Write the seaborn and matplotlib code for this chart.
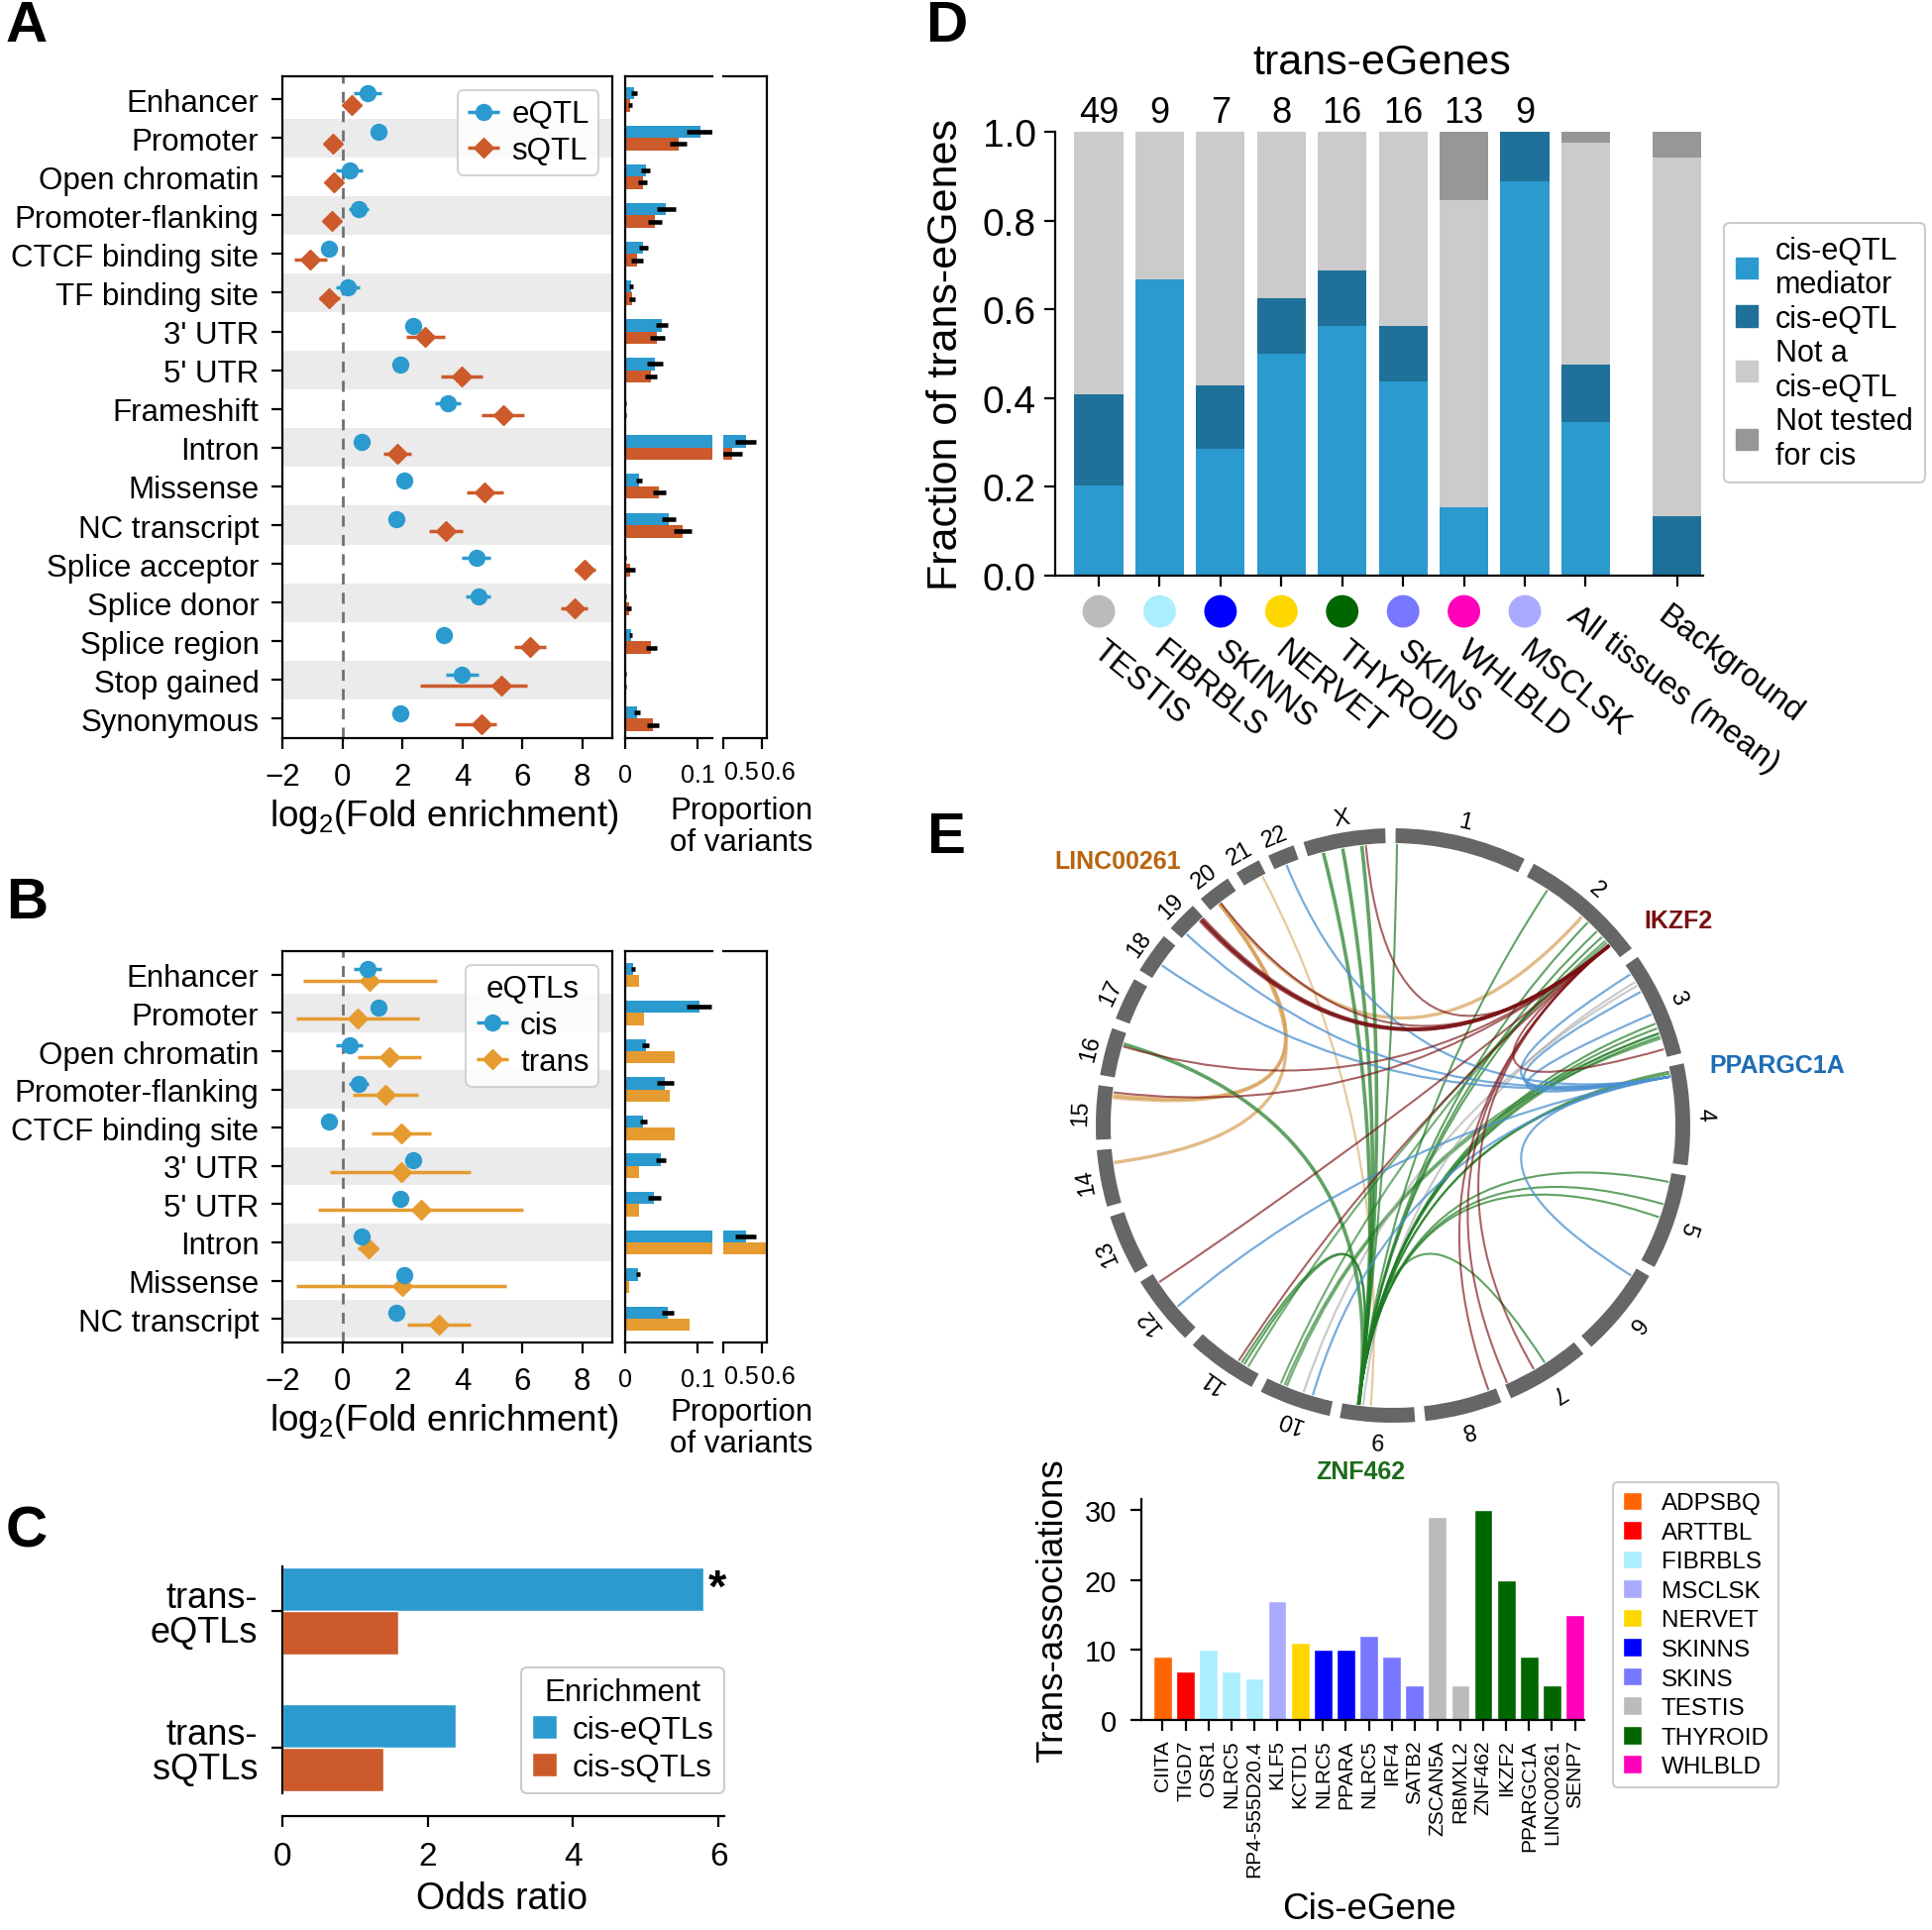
import numpy as np
import pandas as pd
import matplotlib
matplotlib.use('Agg')
import matplotlib.pyplot as plt
import seaborn as sns
from matplotlib.path import Path
from matplotlib.patches import PathPatch, Patch, Wedge

# ------------------------------------------------------------------ data
annot_A = ['Enhancer', 'Promoter', 'Open chromatin', 'Promoter-flanking', 'CTCF binding site',
           'TF binding site', "3' UTR", "5' UTR", 'Frameshift', 'Intron', 'Missense',
           'NC transcript', 'Splice acceptor', 'Splice donor', 'Splice region', 'Stop gained',
           'Synonymous']
eqtl_fe = [0.84, 1.21, 0.23, 0.55, -0.44, 0.17, 2.37, 1.93, 3.52, 0.65, 2.05, 1.81, 4.46, 4.53, 3.37, 3.99, 1.93]
eqtl_lo = [0.38, 1.05, -0.20, 0.22, -0.60, -0.23, 2.22, 1.80, 3.09, 0.55, 1.93, 1.70, 3.97, 4.11, 3.17, 3.44, 1.83]
eqtl_hi = [1.30, 1.37, 0.66, 0.88, -0.28, 0.57, 2.52, 2.06, 3.95, 0.75, 2.17, 1.92, 4.95, 4.95, 3.57, 4.54, 2.03]
sqtl_fe = [0.30, -0.32, -0.27, -0.35, -1.06, -0.44, 2.77, 3.98, 5.35, 1.83, 4.75, 3.44, 8.09, 7.73, 6.26, 5.29, 4.63]
sqtl_lo = [0.15, -0.45, -0.40, -0.48, -1.59, -0.79, 2.12, 3.30, 4.65, 1.36, 4.13, 2.88, 7.73, 7.27, 5.74, 2.58, 3.76]
sqtl_hi = [0.45, -0.19, -0.14, -0.22, -0.53, -0.09, 3.42, 4.66, 6.05, 2.30, 5.37, 4.00, 8.45, 8.19, 6.78, 6.16, 5.15]
eqtl_prop = [0.012, 0.103, 0.028, 0.056, 0.025, 0.008, 0.050, 0.041, 0.0008, 0.559, 0.019, 0.060, 0.0005, 0.001, 0.008, 0.0005, 0.016]
eqtl_prop_err = [0.004, 0.019, 0.006, 0.013, 0.006, 0.003, 0.008, 0.011, 0.0005, 0.027, 0.004, 0.009, 0.0003, 0.0005, 0.002, 0.0003, 0.004]
sqtl_prop = [0.007, 0.073, 0.024, 0.041, 0.016, 0.009, 0.044, 0.035, 0.001, 0.523, 0.047, 0.079, 0.007, 0.005, 0.036, 0.0005, 0.038]
sqtl_prop_err = [0.003, 0.011, 0.006, 0.010, 0.008, 0.004, 0.010, 0.008, 0.001, 0.025, 0.009, 0.012, 0.007, 0.003, 0.008, 0.0003, 0.008]

annot_B = ['Enhancer', 'Promoter', 'Open chromatin', 'Promoter-flanking', 'CTCF binding site',
           "3' UTR", "5' UTR", 'Intron', 'Missense', 'NC transcript']
cis_fe = [0.84, 1.21, 0.23, 0.55, -0.44, 2.37, 1.93, 0.65, 2.05, 1.81]
cis_lo = [0.38, 1.05, -0.20, 0.22, -0.60, 2.22, 1.80, 0.55, 1.93, 1.70]
cis_hi = [1.30, 1.37, 0.66, 0.88, -0.28, 2.52, 2.06, 0.75, 2.17, 1.92]
trans_fe = [0.92, 0.52, 1.56, 1.44, 1.95, 1.95, 2.62, 0.86, 2.00, 3.22]
trans_lo = [-1.31, -1.53, 0.52, 0.35, 0.96, -0.40, -0.81, 0.52, -1.53, 2.16]
trans_hi = [3.14, 2.57, 2.63, 2.53, 2.94, 4.28, 6.04, 1.19, 5.47, 4.28]
cis_prop = [0.011, 0.102, 0.028, 0.055, 0.025, 0.049, 0.040, 0.559, 0.018, 0.059]
cis_prop_err = [0.003, 0.017, 0.005, 0.012, 0.005, 0.007, 0.009, 0.027, 0.003, 0.008]
trans_prop = [0.019, 0.026, 0.068, 0.061, 0.068, 0.019, 0.019, 0.62, 0.005, 0.089]

c_groups = ['trans-\neQTLs', 'trans-\nsQTLs']
c_or_cis_eqtl = [5.80, 2.39]
c_or_cis_sqtl = [1.59, 1.39]

d_labels = ['TESTIS', 'FIBRBLS', 'SKINNS', 'NERVET', 'THYROID', 'SKINS', 'WHLBLD', 'MSCLSK',
            'All tissues (mean)', 'Background']
d_counts = [49, 9, 7, 8, 16, 16, 13, 9]
d_mediator = [0.204, 0.667, 0.286, 0.500, 0.563, 0.438, 0.154, 0.889, 0.347, 0.0]
d_ciseqtl = [0.204, 0.0, 0.143, 0.125, 0.125, 0.125, 0.0, 0.111, 0.129, 0.133]
d_notcis = [0.592, 0.333, 0.571, 0.375, 0.312, 0.437, 0.692, 0.0, 0.500, 0.810]
d_nottested = [0.0, 0.0, 0.0, 0.0, 0.0, 0.0, 0.154, 0.0, 0.024, 0.057]

tissue_colors = {'ADPSBQ': '#FF6600', 'ARTTBL': '#FF0000', 'FIBRBLS': '#AAEEFF',
                 'MSCLSK': '#AAAAFF', 'NERVET': '#FFD700', 'SKINNS': '#0000FF',
                 'SKINS': '#7777FF', 'TESTIS': '#BBBBBB', 'THYROID': '#006600',
                 'WHLBLD': '#FF00BB'}

e_genes = ['CIITA', 'TIGD7', 'OSR1', 'NLRC5', 'RP4-555D20.4', 'KLF5', 'KCTD1', 'NLRC5', 'PPARA',
           'NLRC5', 'IRF4', 'SATB2', 'ZSCAN5A', 'RBMXL2', 'ZNF462', 'IKZF2', 'PPARGC1A',
           'LINC00261', 'SENP7']
e_counts = [9, 7, 10, 7, 6, 17, 11, 10, 10, 12, 9, 5, 29, 5, 30, 20, 9, 5, 15]
e_tissues = ['ADPSBQ', 'ARTTBL', 'FIBRBLS', 'FIBRBLS', 'FIBRBLS', 'MSCLSK', 'NERVET', 'SKINNS',
             'SKINNS', 'SKINS', 'SKINS', 'SKINS', 'TESTIS', 'TESTIS', 'THYROID', 'THYROID',
             'THYROID', 'THYROID', 'WHLBLD']

chrom_names = ['1', '2', '3', '4', '5', '6', '7', '8', '9', '10', '11', '12', '13', '14', '15',
               '16', '17', '18', '19', '20', '21', '22', 'X']
chrom_len = [249, 243, 198, 191, 181, 171, 159, 146, 141, 136, 135, 134, 115, 107, 102, 90, 81,
             78, 59, 63, 48, 51, 155]

# trans links: (chrom, Mb) of the cis-eGene and of each target
ikzf2_src = ('2', 212)
ikzf2_targets = [('19', 50), ('19', 53), ('19', 56), ('16', 63), ('15', 92), ('12', 114),
                 ('11', 47), ('8', 15), ('7', 154), ('7', 95), ('3', 182), ('20', 25), ('X', 116)]
ppargc1a_src = ('4', 20)
ppargc1a_targets = [('22', 25), ('19', 12), ('18', 31), ('3', 20), ('3', 60), ('3', 109),
                    ('6', 17), ('12', 54), ('10', 41)]
linc_src = ('20', 22)
linc_targets = [('2', 134), ('15', 82), ('15', 86), ('14', 80)]
znf462_src = ('9', 109)
znf462_targets = [('X', 31), ('X', 70), ('X', 108), ('1', 3), ('16', 68), ('2', 48), ('2', 150),
                  ('2', 175), ('2', 190), ('3', 129), ('3', 139), ('3', 149), ('3', 156),
                  ('4', 10), ('4', 14), ('5', 18), ('5', 63), ('5', 90), ('11', 34), ('11', 40),
                  ('7', 70)]
other_links = [('21', 40, '9', 85, 'LINC00261'), ('10', 100, '3', 150, 'THYROID'),
               ('10', 108, '2', 200, 'THYROID'), ('10', 95, '3', 160, 'THYROID'),
               ('11', 25, '2', 205, 'THYROID'), ('3', 38, '9', 100, 'TESTIS'),
               ('3', 46, '10', 60, 'TESTIS')]

# ------------------------------------------------------------------ style
sns.set_style('ticks')
plt.rcParams['font.family'] = ['Liberation Sans', 'DejaVu Sans']
plt.rcParams.update({
    'mathtext.fontset': 'custom', 'mathtext.rm': 'Liberation Sans',
    'mathtext.it': 'Liberation Sans:italic', 'mathtext.bf': 'Liberation Sans:bold',
    'text.color': 'black', 'axes.labelcolor': 'black', 'xtick.color': 'black',
    'ytick.color': 'black', 'axes.edgecolor': 'black', 'axes.linewidth': 1.6,
    'xtick.major.width': 1.6, 'ytick.major.width': 1.6, 'xtick.major.size': 8,
    'ytick.major.size': 8, 'xtick.direction': 'out', 'ytick.direction': 'out',
    'xtick.major.pad': 6, 'ytick.major.pad': 6, 'legend.edgecolor': '#CCCCCC',
})

BLUE = '#2B9ACF'
RED = '#CC5A2B'
ORANGE = '#E59B30'
DARKBLUE = '#1F7199'

W, H = 1950, 1949
fig = plt.figure(figsize=(W / 100, H / 100), dpi=100)


def add_ax(x0, y0, x1, y1):
    return fig.add_axes([x0 / W, 1 - y1 / H, (x1 - x0) / W, (y1 - y0) / H])


def ftext(x, y, s, **kw):
    kw.setdefault('ha', 'center')
    kw.setdefault('va', 'center')
    return fig.text(x / W, 1 - y / H, s, **kw)


# ------------------------------------------------------------------ A / B helpers
def forest(ax, cats, m1, lo1, hi1, m2, lo2, hi2, c2, lab1, lab2, ylim, title=None):
    n = len(cats)
    y = np.arange(n)
    m1, lo1, hi1 = map(np.asarray, (m1, lo1, hi1))
    m2, lo2, hi2 = map(np.asarray, (m2, lo2, hi2))
    for i in range(1, n, 2):
        ax.axhspan(i - 0.5, i + 0.5, color='#EBEBEB', lw=0, zorder=0)
    ax.axvline(0, color='#707070', ls=(0, (4, 3)), lw=2, zorder=1)
    ax.errorbar(m1, y - 0.15, xerr=[m1 - lo1, hi1 - m1], fmt='o', color=BLUE, ms=11.5,
                elinewidth=2.5, capsize=0, label=lab1, zorder=4)
    ax.errorbar(m2, y + 0.15, xerr=[m2 - lo2, hi2 - m2], fmt='D', color=c2, ms=10,
                elinewidth=2.5, capsize=0, label=lab2, zorder=3)
    ax.set_yticks(y)
    ax.set_yticklabels(cats, fontsize=22.5)
    ax.set_ylim(*ylim)
    ax.set_xlim(-2, 9)
    ax.set_xticks([-2, 0, 2, 4, 6, 8])
    ax.tick_params(axis='x', labelsize=22.5, pad=9)
    ax.tick_params(axis='y', pad=9)
    leg = ax.legend(loc='upper right', fontsize=22.5, title=title, title_fontsize=22.5,
                    framealpha=0.85, fancybox=True, labelspacing=0.22, handlelength=1.1,
                    handletextpad=0.35, borderpad=0.3, borderaxespad=0.45)
    leg.get_frame().set_linewidth(1.5)


def props(ax1, ax2, v1, e1, v2, e2, c2, ylim):
    n = len(v1)
    y = np.arange(n)
    for ax in (ax1, ax2):
        ax.barh(y - 0.16, v1, height=0.32, color=BLUE, lw=0)
        ax.barh(y + 0.16, v2, height=0.32, color=c2, lw=0)
        ax.errorbar(v1, y - 0.16, xerr=e1, fmt='none', ecolor='black', elinewidth=3.3, capsize=0)
        if e2 is not None:
            ax.errorbar(v2, y + 0.16, xerr=e2, fmt='none', ecolor='black', elinewidth=3.3,
                        capsize=0)
        ax.set_ylim(*ylim)
        ax.set_yticks([])
        ax.tick_params(axis='x', labelsize=18, pad=10)
    ax1.set_xlim(0, 0.12)
    ax1.set_xticks([0, 0.1])
    ax1.set_xticklabels(['0', '0.1'])
    ax1.spines['right'].set_visible(False)
    ax2.set_xlim(0.5, 0.613)
    ax2.set_xticks([0.5, 0.6])
    ax2.set_xticklabels(['', ''])
    ax2.spines['left'].set_visible(False)


# ------------------------------------------------------------------ panel A
axA = add_ax(285, 78, 618, 746)
forest(axA, annot_A, eqtl_fe, eqtl_lo, eqtl_hi, sqtl_fe, sqtl_lo, sqtl_hi, RED, 'eQTL', 'sQTL',
       (16.5, -0.59))
axA1 = add_ax(631, 78, 719, 746)
axA2 = add_ax(730, 78, 774, 746)
props(axA1, axA2, eqtl_prop, eqtl_prop_err, sqtl_prop, sqtl_prop_err, RED, (16.5, -0.59))
ftext(748, 780, '0.5', fontsize=18)
ftext(785, 780, '0.6', fontsize=18)
ftext(448, 825, 'log$_2$(Fold enrichment)', fontsize=26.5)
ftext(748, 835, 'Proportion\nof variants', fontsize=22.5, linespacing=1.1)

# ------------------------------------------------------------------ panel B
axB = add_ax(285, 961, 618, 1356)
forest(axB, annot_B, cis_fe, cis_lo, cis_hi, trans_fe, trans_lo, trans_hi, ORANGE, 'cis', 'trans',
       (9.62, -0.62), title='eQTLs')
axB1 = add_ax(631, 961, 719, 1356)
axB2 = add_ax(730, 961, 774, 1356)
props(axB1, axB2, cis_prop, cis_prop_err, trans_prop, None, ORANGE, (9.62, -0.62))
ftext(748, 1390, '0.5', fontsize=18)
ftext(785, 1390, '0.6', fontsize=18)
ftext(448, 1434, 'log$_2$(Fold enrichment)', fontsize=26.5)
ftext(748, 1442, 'Proportion\nof variants', fontsize=22.5, linespacing=1.1)

# ------------------------------------------------------------------ panel C
axC = add_ax(285, 1582, 731, 1811)
df_c = pd.DataFrame({'group': c_groups * 2,
                     'Enrichment': ['cis-eQTLs'] * 2 + ['cis-sQTLs'] * 2,
                     'OR': c_or_cis_eqtl + c_or_cis_sqtl})
sns.barplot(data=df_c, x='OR', y='group', hue='Enrichment', orient='h', palette=[BLUE, RED],
            width=0.64, saturation=1, ax=axC)
axC.set_ylim(1.333, -0.326)
axC.set_xlim(0, 6.08)
axC.set_xticks([0, 2, 4, 6])
axC.set_xlabel('')
axC.set_ylabel('')
axC.tick_params(axis='y', labelsize=26, pad=10)
axC.tick_params(axis='x', labelsize=24, pad=10)
for lbl in axC.get_yticklabels():
    lbl.set_linespacing(1.0)
axC.spines['top'].set_visible(False)
axC.spines['right'].set_visible(False)
axC.spines['bottom'].set_position(('outward', 16.5))
axC.text(5.86, -0.16, '*', fontsize=34, fontweight='bold', ha='left', va='center')
legC = axC.legend(loc='lower right', bbox_to_anchor=(1.0, 0.0), borderaxespad=0.0, fontsize=22.5,
                  title='Enrichment', title_fontsize=22.5, handlelength=0.8, handleheight=0.8,
                  handletextpad=0.5, labelspacing=0.25, borderpad=0.35, fancybox=True,
                  framealpha=1)
legC.get_frame().set_linewidth(1.5)
ftext(507, 1917, 'Odds ratio', fontsize=27)

# ------------------------------------------------------------------ panel D
axD = add_ax(1065, 134, 1719, 582)
d_x = np.array([0, 1, 2, 3, 4, 5, 6, 7, 8, 9.5])
bottom = np.zeros(len(d_x))
seg_colors = [BLUE, DARKBLUE, '#CBCBCB', '#979797']
seg_labels = ['cis-eQTL\nmediator', 'cis-eQTL', 'Not a\ncis-eQTL', 'Not tested\nfor cis']
for vals, col in zip([d_mediator, d_ciseqtl, d_notcis, d_nottested], seg_colors):
    vals = np.asarray(vals)
    axD.bar(d_x, vals, bottom=bottom, width=0.8, color=col, lw=0)
    bottom += vals
axD.set_xlim(-0.717, 9.93)
axD.set_ylim(0, 1)
axD.set_yticks([0, 0.2, 0.4, 0.6, 0.8, 1.0])
axD.set_yticklabels(['0.0', '0.2', '0.4', '0.6', '0.8', '1.0'])
axD.tick_params(axis='y', labelsize=28)
axD.set_xticks(d_x)
axD.set_xticklabels([''] * len(d_x))
for s in ('top', 'right'):
    axD.spines[s].set_visible(False)
for i, c in enumerate(d_counts):
    axD.text(d_x[i], 1.004, str(c), ha='center', va='bottom', fontsize=26)
axD.scatter(d_x[:8], [-0.0805] * 8, s=560, c=[tissue_colors[t] for t in d_labels[:8]],
            clip_on=False, lw=0, zorder=5)
for i, lab in enumerate(d_labels):
    if i < 8:
        axD.text(d_x[i] + 0.12, -0.132, lab, rotation=-39, rotation_mode='anchor', ha='left',
                 va='top', fontsize=23.5, clip_on=False)
    else:
        axD.text(d_x[i] - 0.1, -0.055, lab, rotation=-37, rotation_mode='anchor', ha='left',
                 va='top', fontsize=23.5, clip_on=False)
legD = axD.legend([Patch(color=c) for c in seg_colors], seg_labels, loc='upper left',
                  bbox_to_anchor=(1.032, 0.794), borderaxespad=0, fontsize=22,
                  handlelength=0.7, handleheight=0.7, handletextpad=0.6, labelspacing=0.15,
                  fancybox=True, framealpha=1)
legD.get_frame().set_linewidth(1.5)
ftext(1395, 64, 'trans-eGenes', fontsize=31)
ftext(955, 358, 'Fraction of trans-eGenes', fontsize=31, rotation=90)

# ------------------------------------------------------------------ panel E circos
CX, CY = 1406, 1137
axE = add_ax(CX - 340, CY - 340, CX + 340, CY + 340)
axE.set_xlim(-340, 340)
axE.set_ylim(-340, 340)
axE.set_aspect('equal')
axE.axis('off')

GAP = 2.0
R_OUT, R_IN, R_LINK = 300, 285, 284
deg_per_mb = (360 - GAP * len(chrom_len)) / sum(chrom_len)
starts = {}
a = 0.5
for nm, ln in zip(chrom_names, chrom_len):
    starts[nm] = a
    a += ln * deg_per_mb + GAP


def ang(ch, pos):
    return starts[ch] + pos * deg_per_mb


def xy(theta, r):
    t = np.radians(theta)
    return np.array([r * np.sin(t), r * np.cos(t)])


for nm, ln in zip(chrom_names, chrom_len):
    t0 = starts[nm]
    t1 = t0 + ln * deg_per_mb
    axE.add_patch(Wedge((0, 0), R_OUT, 90 - t1, 90 - t0, width=R_OUT - R_IN, color='#666666',
                        lw=0))
    tm = 0.5 * (t0 + t1)
    px, py = xy(tm, 315)
    axE.text(px, py, nm, rotation=-tm, rotation_mode='anchor', ha='center', va='center',
             fontsize=17)


def link(p, q, color, lw, alpha):
    p1 = xy(ang(*p), R_LINK)
    p2 = xy(ang(*q), R_LINK)
    path = Path([p1, (0, 0), p2], [Path.MOVETO, Path.CURVE3, Path.CURVE3])
    axE.add_patch(PathPatch(path, fc='none', ec=color, lw=lw, alpha=alpha))


COL_IKZF2 = '#7A1012'
COL_PPAR = '#4A90D0'
COL_LINC = '#D9A45F'
COL_ZNF = '#1E7B22'
link_colors = {'LINC00261': COL_LINC, 'THYROID': COL_ZNF, 'TESTIS': '#A8A8A8'}

for ch, pos in linc_targets:
    link(linc_src, (ch, pos), COL_LINC, 2.4, 0.75)
for (c1, p1, c2, p2, grp) in other_links:
    link((c1, p1), (c2, p2), link_colors[grp], 1.6, 0.6)
for k, (ch, pos) in enumerate(znf462_targets):
    lw = 2.6 if ch in ('16', 'X') else 1.5
    link(znf462_src, (ch, pos), COL_ZNF, lw, 0.7)
for ch, pos in ppargc1a_targets:
    link(ppargc1a_src, (ch, pos), COL_PPAR, 1.6, 0.75)
for ch, pos in ikzf2_targets:
    lw = 2.6 if ch == '19' else 1.5
    link(ikzf2_src, (ch, pos), COL_IKZF2, lw, 0.65)

ftext(1128, 870, 'LINC00261', fontsize=18, fontweight='bold', color='#B8650F')
ftext(1694, 930, 'IKZF2', fontsize=18, fontweight='bold', color=COL_IKZF2)
ftext(1794, 1076, 'PPARGC1A', fontsize=18, fontweight='bold', color='#1D6DB5')
ftext(1373, 1486, 'ZNF462', fontsize=18, fontweight='bold', color='#1B6B1B')

# ------------------------------------------------------------------ panel E bars
axEb = add_ax(1152, 1514, 1599, 1737)
df_e = pd.DataFrame({'idx': [str(i) for i in range(len(e_genes))], 'n': e_counts,
                     'Tissue': e_tissues})
sns.barplot(data=df_e, x='idx', y='n', hue='Tissue', palette=tissue_colors, dodge=False,
            width=0.81, saturation=1, ax=axEb)
axEb.set_xlim(-0.93, 18.41)
axEb.set_ylim(0, 31.6)
axEb.set_yticks([0, 10, 20, 30])
axEb.tick_params(axis='y', labelsize=21, pad=10)
axEb.set_xticks(range(len(e_genes)))
axEb.set_xticklabels(e_genes, rotation=90, fontsize=15)
axEb.set_xlabel('')
axEb.set_ylabel('')
for s in ('top', 'right'):
    axEb.spines[s].set_visible(False)
hE, lE = axEb.get_legend_handles_labels()
legE = axEb.legend(hE, lE, loc='upper left', bbox_to_anchor=(1.065, 1.077), borderaxespad=0,
                   fontsize=17.5, handlelength=0.8, handleheight=0.8, handletextpad=0.8,
                   labelspacing=0.28, fancybox=True, framealpha=1)
legE.get_frame().set_linewidth(1.5)
ftext(1063, 1626, 'Trans-associations', fontsize=26.5, rotation=90)
ftext(1382, 1928, 'Cis-eGene', fontsize=26.5)

# ------------------------------------------------------------------ panel letters
for lt, (x, y) in zip('ABCDE', [(27, 27), (27, 912), (27, 1547), (955, 27), (955, 846)]):
    ftext(x, y, lt, fontsize=42, fontweight='bold')

fig.savefig('out.png', dpi=100)
